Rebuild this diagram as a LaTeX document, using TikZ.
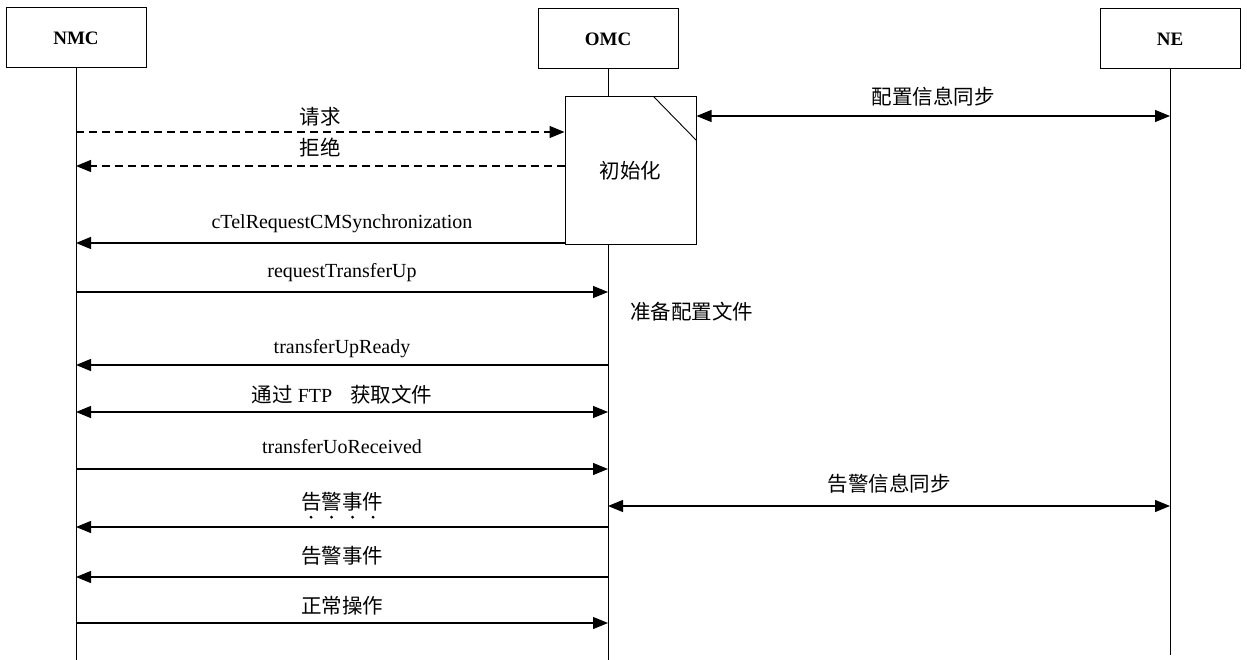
\documentclass[tikz,border=0pt]{standalone}
\usepackage{fontspec}
\setmainfont{Liberation Serif}
\newfontfamily\cjk{Noto Sans CJK SC}
\usetikzlibrary{arrows.meta}
\begin{document}
\begin{tikzpicture}[x=1pt,y=-1pt,
  actor/.style={draw,line width=1pt,minimum width=140pt,minimum height=60pt,inner sep=0pt,font=\bfseries\fontsize{19}{23}\selectfont},
  tip/.tip={Triangle[length=15pt,width=12pt]},
  msg/.style={line width=1.2pt,-tip},
  both/.style={line width=1.2pt,tip-tip},
  dmsg/.style={msg,dash pattern=on 8pt off 5pt},
  life/.style={line width=0.9pt},
  lbl/.style={font=\fontsize{20}{24}\selectfont,inner sep=0pt},
  cnl/.style={font=\cjk\fontsize{20.5}{24}\selectfont,inner sep=0pt},
  dot/.style={fill,circle,inner sep=0pt,minimum size=3.2pt}]
\useasboundingbox (0,0) rectangle (1247,660);
% actors
\node[actor] (nmc) at (76,38) {NMC};
\node[actor] (omc) at (608,39) {OMC};
\node[actor] (ne) at (1170,39) {NE};
\coordinate (nmcEnd) at (76,660);
\coordinate (omcEnd) at (608,660);
\coordinate (neEnd) at (1170,655);
\draw[life] (nmc.south) -- (nmcEnd);
\draw[life] (omc.south) -- (omcEnd);
\draw[life] (ne.south) -- (neEnd);
% init box
\node[draw,fill=white,line width=1pt,minimum width=131pt,minimum height=148pt,inner sep=0pt,font=\cjk\fontsize{20.5}{24}\selectfont] (init) at (630.5,171) {初始化};
\draw[line width=0.9pt] ([xshift=-43pt]init.north east) -- ([yshift=-44pt]init.north east);
% row coordinates on NMC lifeline
\coordinate (r1) at (76,132);
\coordinate (r2) at (76,166);
\coordinate (r3) at (76,243);
\coordinate (r4) at (76,292);
\coordinate (r5) at (76,365);
\coordinate (r6) at (76,412);
\coordinate (r7) at (76,469);
\coordinate (r8) at (76,527);
\coordinate (r9) at (76,577);
\coordinate (r10) at (76,623);
\coordinate (s1) at (1170,116);
\coordinate (s2) at (1170,506);
% messages
\draw[dmsg] (r1) -- (r1 -| init.west) node[midway,cnl,yshift=15pt] {请求};
\draw[dmsg] (r2 -| init.west) -- (r2) node[midway,cnl,yshift=18pt] {拒绝};
\draw[msg] (r3 -| init.west) -- (r3);
\path (r3) -- (r3 -| omc) node[midway,lbl,yshift=19pt] {cTelRequestCMSynchronization};
\draw[both] (s1 -| init.east) -- (s1) node[midway,cnl,yshift=19pt] {配置信息同步};
\draw[msg] (r4) -- (r4 -| omc) node[midway,lbl,yshift=19pt] {requestTransferUp};
\node[cnl,anchor=west] (prep) at (630,312) {准备配置文件};
\draw[msg] (r5 -| omc) -- (r5) node[midway,lbl,yshift=16pt] {transferUpReady};
\draw[both] (r6) -- (r6 -| omc) node[midway,lbl,yshift=17pt] {{\cjk\fontsize{20.5}{24}\selectfont 通过} FTP\hspace{18pt}{\cjk\fontsize{20.5}{24}\selectfont 获取文件}};
\draw[msg] (r7) -- (r7 -| omc) node[midway,lbl,yshift=22pt] {transferUoReceived};
\draw[both] (s2 -| omc) -- (s2) node[midway,cnl,yshift=22pt] {告警信息同步};
\draw[msg] (r8 -| omc) -- (r8) node[midway,cnl,yshift=25pt] (al1) {告警事件};
\foreach \dx in {-31,-10.5,10.5,31} \node[dot] at ([xshift=\dx pt,yshift=-5pt]al1.south) {};
\draw[msg] (r9 -| omc) -- (r9) node[midway,cnl,yshift=21pt] {告警事件};
\draw[msg] (r10) -- (r10 -| omc) node[midway,cnl,yshift=17pt] {正常操作};
\end{tikzpicture}
\end{document}
